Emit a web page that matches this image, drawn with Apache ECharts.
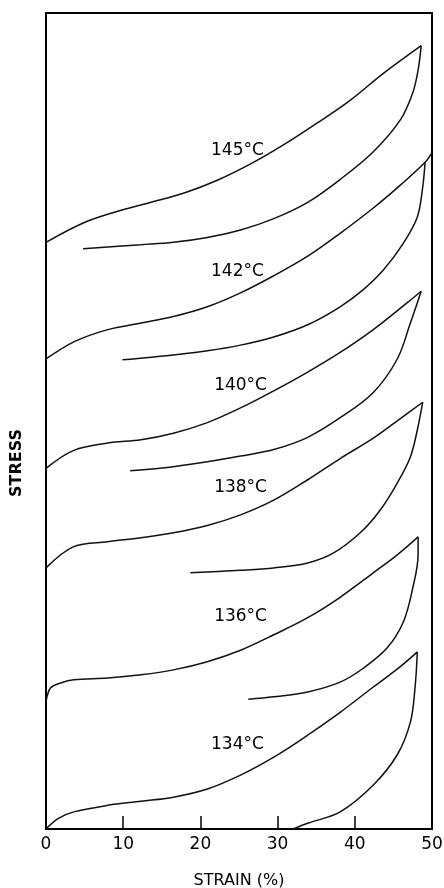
<!DOCTYPE html>
<html>
<head>
<meta charset="utf-8">
<title>Stress–strain loops</title>
<script src="https://cdn.jsdelivr.net/npm/echarts@6/dist/echarts.min.js"></script>
<style>
  html, body { margin: 0; padding: 0; background: #fff; }
  #chart { width: 444px; height: 888px; }
</style>
</head>
<body>
<div id="chart"></div>
<script>
// Strain (%) and stress (arbitrary units, curves offset per temperature)
const strainTicks = [0, 10, 20, 30, 40, 50];
const temperatures = ['145°C', '142°C', '140°C', '138°C', '136°C', '134°C'];

// Label anchors in [strain, stress]
const labelAnchors = [[24.8, 83.2], [24.8, 68.3], [25.2, 54.4], [25.2, 41.8], [25.2, 26.0], [24.8, 10.3]];

// 145 °C
const load145 = [[0, 71.9], [4.9, 74.3], [9.3, 75.7], [13.6, 76.8], [17.8, 77.9], [22.2, 79.5],
  [26.5, 81.5], [30.7, 83.8], [35.1, 86.5], [39.4, 89.3], [43.7, 92.6], [48.6, 96.0]];
const unload145 = [[48.6, 96.0], [48.2, 93.0], [47.5, 90.2], [45.9, 86.9], [42.4, 83.0], [38.1, 79.6],
  [33.9, 76.8], [29.5, 74.8], [25.2, 73.4], [20.9, 72.5], [16.5, 71.9], [12.3, 71.6], [4.8, 71.1]];

// 142 °C
const load142 = [[0, 57.6], [3.6, 59.7], [8.0, 61.2], [12.3, 62.0], [16.5, 62.8], [20.9, 64.0],
  [25.2, 65.7], [29.5, 67.8], [33.9, 70.2], [38.1, 73.0], [42.4, 76.1], [45.9, 78.9], [49.1, 81.7], [50.0, 82.9]];
const unload142 = [[49.1, 81.7], [48.8, 78.7], [48.1, 75.0], [46.3, 71.8], [43.7, 68.5], [41.1, 66.1],
  [38.1, 64.0], [33.9, 61.8], [29.5, 60.3], [25.2, 59.3], [20.9, 58.6], [16.5, 58.1], [9.9, 57.5]];

// 140 °C
const load140 = [[0, 44.2], [3.6, 46.4], [8.0, 47.3], [12.3, 47.7], [16.5, 48.5], [20.9, 49.8],
  [25.2, 51.6], [29.5, 53.7], [33.9, 56.0], [38.1, 58.4], [42.4, 61.2], [46.8, 64.5], [48.6, 65.9]];
const unload140 = [[48.6, 65.9], [47.2, 62.0], [45.5, 57.6], [42.4, 53.5], [38.1, 50.4], [33.9, 48.0],
  [29.5, 46.5], [25.2, 45.7], [20.9, 45.0], [16.5, 44.4], [10.9, 43.9]];

// 138 °C
const load138 = [[0, 32.0], [3.6, 34.6], [8.0, 35.2], [12.3, 35.7], [16.5, 36.3], [20.9, 37.2],
  [25.2, 38.5], [29.5, 40.3], [33.9, 42.8], [38.1, 45.4], [42.4, 47.9], [45.9, 50.3], [48.8, 52.3]];
const unload138 = [[48.8, 52.3], [48.1, 48.9], [47.2, 45.6], [45.5, 42.4], [43.3, 39.1], [40.7, 36.3],
  [37.2, 33.8], [33.9, 32.6], [29.5, 32.0], [25.2, 31.7], [20.9, 31.5], [18.7, 31.4]];

// 136 °C
const load136 = [[0, 15.6], [0.6, 17.3], [1.9, 17.9], [3.6, 18.3], [8.0, 18.5], [12.3, 18.9], [16.5, 19.5],
  [20.9, 20.5], [25.2, 21.9], [29.5, 23.8], [33.9, 25.9], [38.1, 28.4], [42.4, 31.4], [45.5, 33.6], [48.2, 35.8]];
const unload136 = [[48.2, 35.8], [48.2, 33.6], [47.5, 29.5], [46.3, 25.4], [44.2, 22.2], [41.1, 19.7],
  [38.1, 18.0], [33.9, 16.8], [29.5, 16.2], [26.2, 15.9]];

// 134 °C
const load134 = [[0, 0], [1.6, 1.3], [3.6, 2.1], [8.0, 2.9], [12.3, 3.4], [16.5, 3.9], [20.9, 4.9],
  [25.2, 6.6], [29.5, 8.8], [33.9, 11.5], [38.1, 14.3], [42.4, 17.4], [45.9, 19.9], [48.1, 21.7]];
const unload134 = [[48.1, 21.7], [47.8, 17.3], [47.2, 13.1], [45.5, 9.1], [42.4, 5.4], [38.1, 2.1],
  [33.9, 0.7], [32.0, 0.0]];

const branches = [load145, unload145, load142, unload142, load140, unload140,
  load138, unload138, load136, unload136, load134, unload134];

const ink = '#000';
const font = 'DejaVu Sans';

const curveSeries = branches.map(function (pts) {
  return {
    type: 'line',
    data: pts,
    smooth: 0.35,
    showSymbol: false,
    silent: true,
    clip: false,
    lineStyle: { color: '#111', width: 1.5 }
  };
});

const labelSeries = {
  type: 'scatter',
  symbolSize: 0,
  silent: true,
  itemStyle: { opacity: 1 },
  data: labelAnchors.map(function (p, i) {
    return { value: p, name: temperatures[i] };
  }),
  label: {
    show: true,
    position: 'inside',
    formatter: '{b}',
    color: ink,
    fontFamily: font,
    fontSize: 17
  }
};

const chart = echarts.init(document.getElementById('chart'), null, { renderer: 'canvas' });
chart.setOption({
  animation: false,
  backgroundColor: '#fff',
  grid: {
    left: 46, right: 12, top: 13, bottom: 59,
    containLabel: false,
    outerBoundsMode: 'none',
    show: true, borderColor: ink, borderWidth: 2, backgroundColor: 'transparent'
  },
  xAxis: {
    type: 'value',
    min: strainTicks[0],
    max: strainTicks[strainTicks.length - 1],
    interval: 10,
    name: 'STRAIN (%)',
    nameLocation: 'middle',
    nameGap: 44,
    nameTextStyle: { color: ink, fontFamily: font, fontSize: 16 },
    axisLine: { show: true, lineStyle: { color: ink, width: 2 } },
    axisTick: { show: true, inside: true, length: 13, lineStyle: { color: ink, width: 1.5 } },
    axisLabel: { color: ink, fontFamily: font, fontSize: 17, margin: 7 },
    splitLine: { show: false }
  },
  yAxis: {
    type: 'value',
    min: 0,
    max: 100,
    axisLine: { show: true, lineStyle: { color: ink, width: 2 } },
    axisTick: { show: false },
    axisLabel: { show: false },
    splitLine: { show: false }
  },
  graphic: [{
    type: 'text',
    x: 17,
    y: 463,
    rotation: Math.PI / 2,
    style: {
      text: 'STRESS',
      fill: ink,
      font: 'bold 16px "DejaVu Sans"',
      textAlign: 'center',
      textVerticalAlign: 'middle'
    }
  }],
  series: curveSeries.concat([labelSeries])
});
</script>
</body>
</html>
